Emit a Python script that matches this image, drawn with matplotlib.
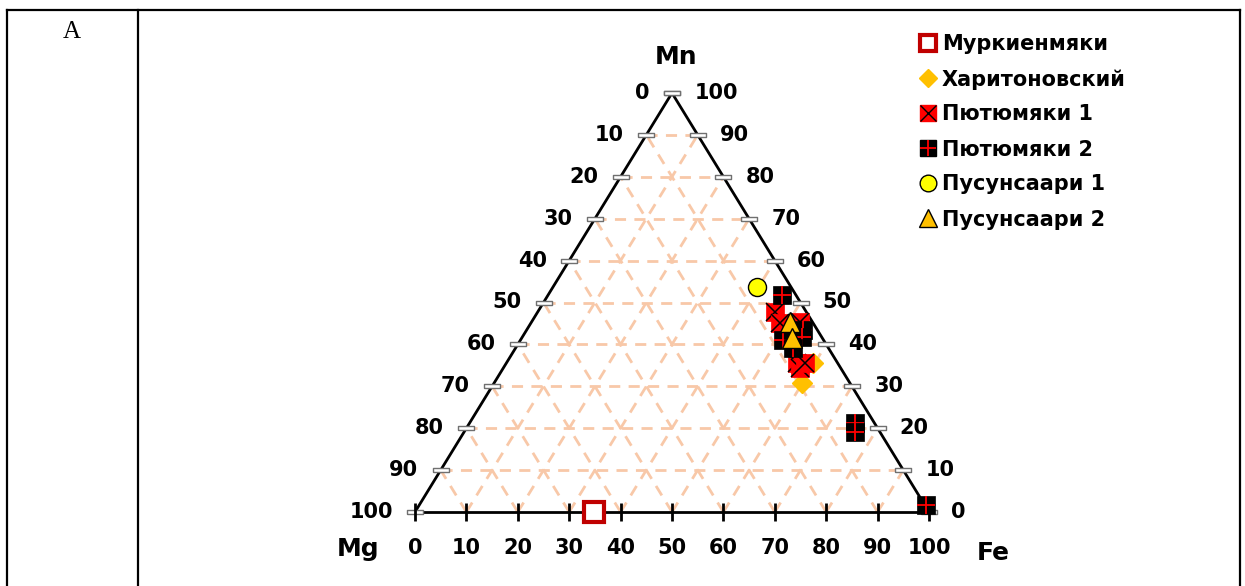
import matplotlib
matplotlib.use('Agg')
import matplotlib.pyplot as plt
from matplotlib.lines import Line2D
from matplotlib.legend_handler import HandlerTuple
import numpy as np

plt.rcParams['font.family'] = ['DejaVu Sans']

# Состав (Mn, Fe в %, Mg = 100 - Mn - Fe)
murk_mn = [0.0]
murk_fe = [34.8]
khar_mn = [35.6, 30.8]
khar_fe = [59.6, 59.9]
pyu1_mn = [47.7, 45.1, 45.3, 35.6, 34.4, 35.6]
pyu1_fe = [46.2, 48.5, 52.3, 56.5, 57.7, 58.1]
pyu2_mn = [51.8, 43.4, 41.1, 41.8, 39.1, 21.2, 19.1, 1.7]
pyu2_fe = [45.5, 53.8, 51.0, 54.4, 54.0, 75.0, 76.0, 98.6]
pus1_mn = [53.7]
pus1_fe = [39.7]
pus2_mn = [45.3, 41.5]
pus2_fe = [50.3, 52.6]

names = ['Муркиенмяки', 'Харитоновский', 'Пютюмяки 1', 'Пютюмяки 2',
         'Пусунсаари 1', 'Пусунсаари 2']
ticks = list(range(0, 101, 10))


def to_xy(mn, fe):
    """тройные координаты -> декартовы"""
    mn = np.asarray(mn, float)
    fe = np.asarray(fe, float)
    return fe + mn / 2.0, mn


fig = plt.figure(figsize=(12.45, 5.86), dpi=100)

# рамка таблицы
for xs, ys in [([0.0056, 0.996], [0.983, 0.983]),
               ([0.0056, 0.0056], [0.983, 0.0]),
               ([0.1108, 0.1108], [0.983, 0.0]),
               ([0.996, 0.996], [0.983, 0.0])]:
    fig.add_artist(Line2D(xs, ys, color='black', lw=1.6, transform=fig.transFigure))
fig.text(0.0578, 0.945, 'A', family='Liberation Serif', fontsize=18,
         ha='center', va='center')

ax = fig.add_axes([415 / 1245, 74 / 586, 514 / 1245, 419 / 586])
ax.set_xlim(0, 100)
ax.set_ylim(0, 100)
ax.axis('off')

# сетка
grid_kw = dict(color='#F8C8A8', lw=2, ls=(0, (4, 3)), zorder=1, clip_on=False)
for k in range(10, 100, 10):
    ax.plot([k / 2, 100 - k / 2], [k, k], **grid_kw)
    ax.plot([k, k + (100 - k) / 2], [0, 100 - k], **grid_kw)
    ax.plot([100 - k, (100 - k) / 2], [0, 100 - k], **grid_kw)

# треугольник
ax.plot([0, 50, 100], [0, 100, 0], color='black', lw=2, zorder=2, clip_on=False)
ax.plot([0, 101], [0, 0], color='black', lw=2, zorder=2, clip_on=False)

# засечки
tick_marker = [(-1.4, -0.35), (1.4, -0.35), (1.4, 0.35), (-1.4, 0.35), (-1.4, -0.35)]
t = np.array(ticks, float)
ax.plot(t / 2, t, ls='none', marker=tick_marker, ms=12, mfc='white', mec='#707070',
        mew=1, zorder=3, clip_on=False)
ax.plot(100 - t / 2, t, ls='none', marker=tick_marker, ms=12, mfc='white', mec='#707070',
        mew=1, zorder=3, clip_on=False)
ax.plot(t, np.zeros_like(t), ls='none', marker='|', ms=13, mec='black', mew=2,
        zorder=3, clip_on=False)

lab_kw = dict(fontsize=15, fontweight='bold', va='center', textcoords='offset points')
for k in ticks:
    ax.annotate(str(100 - k), (k / 2, k), xytext=(-16, 0), ha='right', **lab_kw)
    ax.annotate(str(k), (100 - k / 2, k), xytext=(16, 0), ha='left', **lab_kw)
    ax.annotate(str(k), (k, 0), xytext=(0, -26), ha='center', **lab_kw)

ax.text(50.8, 108.6, 'Mn', fontsize=18, fontweight='bold', ha='center', va='center')
ax.text(-11.1, -8.8, 'Mg', fontsize=18, fontweight='bold', ha='center', va='center')
ax.text(112.5, -9.8, 'Fe', fontsize=18, fontweight='bold', ha='center', va='center')

# данные
x, y = to_xy(murk_mn, murk_fe)
ax.plot(x, y, ls='none', marker='s', ms=14, mfc='white', mec='#C00000', mew=3,
        zorder=5, clip_on=False)
x, y = to_xy(khar_mn, khar_fe)
ax.plot(x, y, ls='none', marker='D', ms=10, mfc='#FFC000', mec='#FFC000',
        zorder=5, clip_on=False)
x, y = to_xy(pyu1_mn, pyu1_fe)
for xi, yi in zip(x, y):
    ax.plot(xi, yi, ls='none', marker='s', ms=13, mfc='#FF0000', mec='#FF0000',
            mew=0.5, zorder=5, clip_on=False)
    ax.plot(xi, yi, ls='none', marker='x', ms=13, mec='black', mew=1.1,
            zorder=5, clip_on=False)
x, y = to_xy(pyu2_mn, pyu2_fe)
for xi, yi in zip(x, y):
    ax.plot(xi, yi, ls='none', marker='s', ms=13, mfc='black', mec='black',
            mew=0.5, zorder=5, clip_on=False)
    ax.plot(xi, yi, ls='none', marker='+', ms=13, mec='#FF0000', mew=1.3,
            zorder=5, clip_on=False)
x, y = to_xy(pus1_mn, pus1_fe)
ax.plot(x, y, ls='none', marker='o', ms=13, mfc='#FFFF00', mec='black', mew=1,
        zorder=5, clip_on=False)
x, y = to_xy(pus2_mn, pus2_fe)
ax.plot(x, y, ls='none', marker='^', ms=14, mfc='#FFC000', mec='black', mew=1,
        zorder=5, clip_on=False)

# легенда
lh = [
    Line2D([], [], ls='none', marker='s', ms=11, mfc='white', mec='#C00000', mew=3),
    Line2D([], [], ls='none', marker='D', ms=9, mfc='#FFC000', mec='#FFC000'),
    (Line2D([], [], ls='none', marker='s', ms=12, mfc='#FF0000', mec='#FF0000'),
     Line2D([], [], ls='none', marker='x', ms=12, mec='black', mew=1)),
    (Line2D([], [], ls='none', marker='s', ms=12, mfc='black', mec='black'),
     Line2D([], [], ls='none', marker='+', ms=12, mec='#FF0000', mew=1.3)),
    Line2D([], [], ls='none', marker='o', ms=12, mfc='#FFFF00', mec='black', mew=1),
    Line2D([], [], ls='none', marker='^', ms=13, mfc='#FFC000', mec='black', mew=1),
]
fig.legend(lh, names, loc='upper left', bbox_to_anchor=(920 / 1245, 1 - 34 / 586),
           frameon=False, handlelength=0.8, handletextpad=0.25, labelspacing=0.72,
           borderaxespad=0, borderpad=0,
           prop={'weight': 'bold', 'size': 15},
           handler_map={tuple: HandlerTuple(ndivide=1)})

fig.savefig('out.png', dpi=100)
